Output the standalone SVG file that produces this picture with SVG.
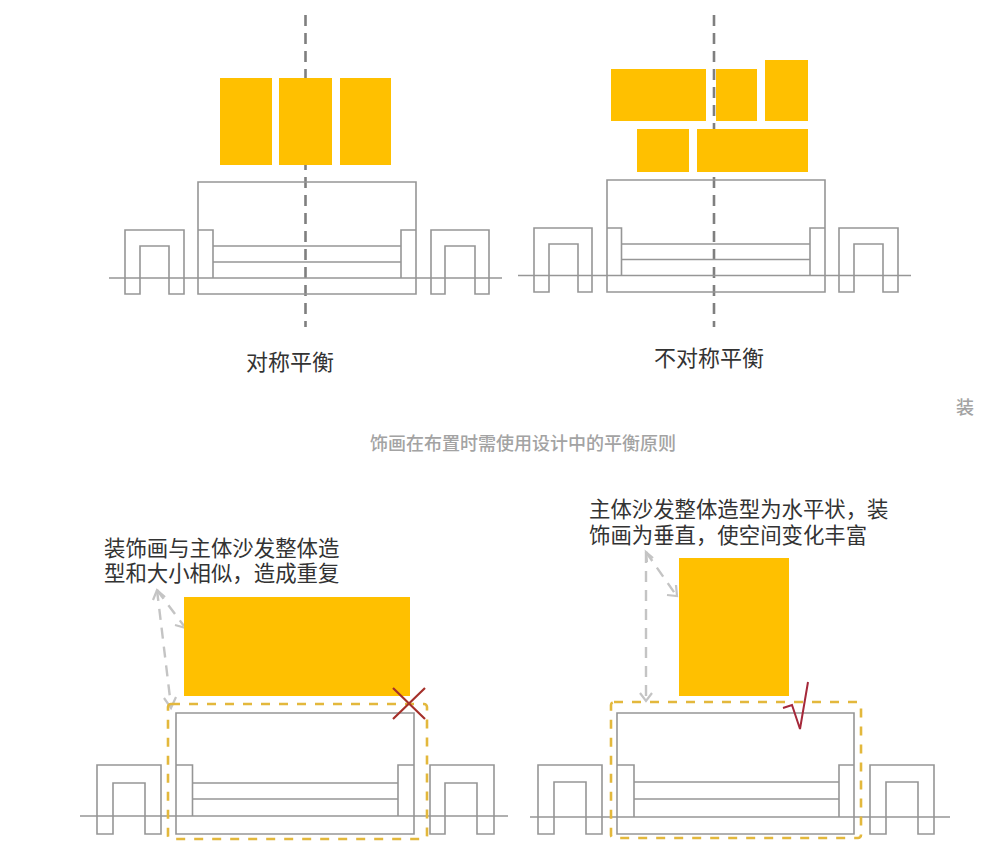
<svg xmlns="http://www.w3.org/2000/svg" width="1000" height="867" viewBox="0 0 1000 867">
<defs>
<style>
.s{fill:none;stroke:#969696;stroke-width:1.6}
.p{fill:#ffc000}
.axis{fill:none;stroke:#7f7f7f;stroke-width:2.6;stroke-dasharray:11 7}
.y{fill:none;stroke:#e3b83c;stroke-width:2.6;stroke-dasharray:9 9}
.a{fill:none;stroke:#c4c4c4;stroke-width:2.4;stroke-dasharray:11 8}
.h{fill:none;stroke:#c4c4c4;stroke-width:2.2}
.t{font-family:"Noto Sans CJK SC","Liberation Sans",sans-serif;fill:#333}
.l{font-size:21.4px}
.c{font-size:18px;fill:#a3a3a3;font-weight:500}
</style>
</defs>
<rect width="1000" height="867" fill="#fff"/>
<g id="connectors">
<path class="axis" d="M305.500 15V327"/>
<path class="axis" d="M714 15V327"/>
<path class="a" d="M157 590L184 626"/>
<path class="h" d="M175 625L186 628L186 616"/>
<path class="a" d="M157 590L171 706"/>
<path class="h" d="M164 698L171 708L176 697"/>
<path class="h" d="M153 600L157 590L165 597"/>
<path class="a" d="M646 552L676 595"/>
<path class="h" d="M667 595L677 596L676 585"/>
<path class="a" d="M646 552V699"/>
<path class="h" d="M640 693L646 701L652 693"/>
<path class="h" d="M647 562L646 552L653 558"/>
</g>
<g id="balance-symmetric">
<rect class="p" x="220" y="78" width="52" height="87"/>
<rect class="p" x="279" y="78" width="53" height="87"/>
<rect class="p" x="340" y="78" width="51" height="87"/>
<path class="s" d="M109 278H502M125 294V230H184V294H169V246H140V294ZM140 278H169M431 294V230H489V294H475V246H445V294ZM445 278H475M198 182H416V294H198ZM198 230H213V278H401V230H416M213 246H401M213 262H401"/>
<text class="t" x="290" y="370" font-size="22" text-anchor="middle">对称平衡</text>
</g>
<g id="balance-asymmetric">
<rect class="p" x="611" y="69" width="95" height="52"/>
<rect class="p" x="716" y="69" width="41" height="52"/>
<rect class="p" x="765" y="60" width="43" height="61"/>
<rect class="p" x="637" y="129" width="52" height="43"/>
<rect class="p" x="697" y="129" width="111" height="43"/>
<path class="s" d="M518 275.500H911M534 292V228H592V292H578V244H549V292ZM549 275.500H578M839 292V228H898V292H883V244H854V292ZM854 275.500H883M607 180H825V292H607ZM607 228H621.500V275.500H810V228H825M621.500 244H810M621.500 259.500H810"/>
<text class="t" x="709" y="366" font-size="22" text-anchor="middle">不对称平衡</text>
</g>
<g id="caption">
<text class="t c" x="965" y="414" text-anchor="middle">装</text>
<text class="t c" x="523" y="450" text-anchor="middle">饰画在布置时需使用设计中的平衡原则</text>
</g>
<g id="wrong-example">
<text class="t l"><tspan x="104" y="556">装饰画与主体沙发整体造</tspan><tspan x="104" y="581">型和大小相似，造成重复</tspan></text>
<rect class="p" x="184" y="597" width="226" height="99"/>
<path class="s" d="M80 816H508M97 834V765H161V834H145V783H113V834ZM113 816H145M430 834V765H494V834H477V783H445V834ZM445 816H477M176 713H414V834H176ZM176 765H192.500V816H398V765H414M192.500 783H398M192.500 799H398"/>
<rect class="y" x="168" y="704" width="259" height="135" rx="3"/>
<path d="M393 688L425 719M425 688L393 719" fill="none" stroke="#a5302a" stroke-width="2.200"/>
</g>
<g id="right-example">
<text class="t l"><tspan x="589" y="517">主体沙发整体造型为水平状，装</tspan><tspan x="589" y="543">饰画为垂直，使空间变化丰富</tspan></text>
<rect class="p" x="679" y="558" width="110" height="138"/>
<path class="s" d="M530 817H950M538 834V765H602V834H586V782H554V834ZM554 817H586M870 834V765H934V834H918V782H886V834ZM886 817H918M617 713H854V834H617ZM617 765H634V817H839V765H854M634 782H839M634 799H839"/>
<rect class="y" x="611" y="702" width="250" height="136" rx="3"/>
<path d="M783 708L792 705L800 729L808 682" fill="none" stroke="#a5283a" stroke-width="2"/>
</g>
</svg>
